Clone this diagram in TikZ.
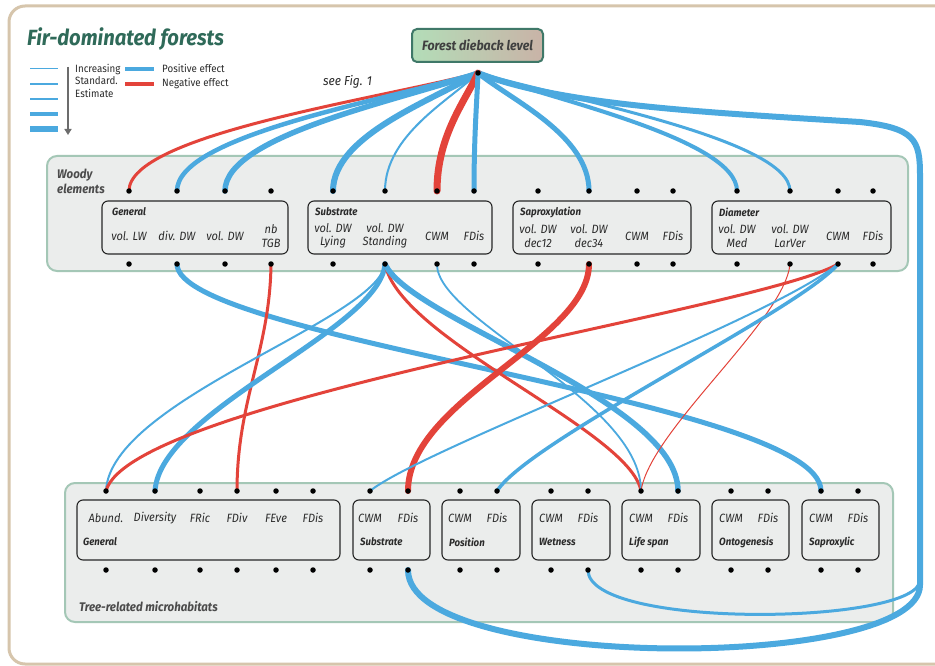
\documentclass[tikz,border=0pt]{standalone}
\usepackage{fontspec}
\setmainfont{Fira Sans}[FakeStretch=0.92]
\usetikzlibrary{arrows.meta}
\definecolor{cpos}{HTML}{4BA9DF}
\definecolor{cneg}{HTML}{E3433A}
\definecolor{boxfill}{HTML}{EBEDEC}
\definecolor{boxline}{HTML}{A4C7B6}
\definecolor{framec}{HTML}{D6C5AC}
\definecolor{titlegreen}{HTML}{2F6A59}
\definecolor{txt}{HTML}{2B2B2B}
\definecolor{fdbL}{HTML}{B3DDB8}
\definecolor{fdbR}{HTML}{C9B3A7}
\definecolor{fdbline}{HTML}{3F7868}
\begin{document}
\begin{tikzpicture}[x=1pt,y=-1pt,
  dot/.style={circle,fill=black,inner sep=0pt,minimum size=5.5pt},
  item/.style={font=\fontsize{12}{13.5}\selectfont\itshape,text=txt,align=center,inner sep=0pt},
  subtitle/.style={font=\fontsize{10.5}{12}\selectfont\bfseries\itshape,text=txt,anchor=west,inner sep=0pt},
  subbox/.style={draw=black!85,line width=1.1pt,rounded corners=6pt,inner sep=0pt},
  bigbox/.style={draw=boxline,fill=boxfill,line width=2pt,rounded corners=10pt,inner sep=0pt},
  bigtitle/.style={font=\fontsize{12.5}{15.5}\selectfont\bfseries\itshape,text=txt!85,anchor=west,inner sep=0pt,align=left},
  legtext/.style={font=\fontsize{10.6}{12}\selectfont,text=txt,anchor=west,inner sep=0pt},
  pe/.style={draw=cpos,line cap=round,line join=round},
  ne/.style={draw=cneg,line cap=round,line join=round},
]
\useasboundingbox (0,0) rectangle (935,666);
\clip (0,0) rectangle (935,666);
\fill[white] (0,0) rectangle (935,666);
\draw[framec,line width=3pt,rounded corners=16pt] (9,6) rectangle (965,664);

% title and legend
\node[anchor=west,inner sep=0pt,text=titlegreen,font=\fontsize{22}{25}\selectfont\bfseries\itshape] (title) at (27,39) {Fir-dominated forests};
\foreach \yy/\ww in {69/1,84/1.5,99/2.5,114/3.5,129/5.5}
  \draw[cpos,line width=\ww pt] (30,\yy) -- (58,\yy);
\draw[draw=gray!85!black,line width=1.5pt,-{Triangle[width=7pt,length=6pt]}] (68,67) -- (68,135);
\node[legtext] (l1) at (75,69) {Increasing};
\node[legtext] (l2) at (75,81) {Standard.};
\node[legtext] (l3) at (75,93) {Estimate};
\draw[cpos,line width=4pt] (125,69) -- (154,69);
\draw[cneg,line width=4pt] (125,84) -- (154,84);
\node[legtext] (lp) at (162,68) {Positive effect};
\node[legtext] (ln) at (162,83) {Negative effect};
\node[anchor=west,inner sep=0pt,text=txt,font=\fontsize{13}{15}\selectfont\itshape] (see) at (323,82) {see Fig. 1};

% top node
\node[draw=fdbline,line width=2pt,rounded corners=5pt,left color=fdbL,right color=fdbR,minimum width=131pt,minimum height=33pt,inner sep=0pt,font=\fontsize{13.5}{15}\selectfont\bfseries\itshape,text=txt!90] (fdb) at (477.5,45.5) {Forest dieback level};

% big boxes
\node[bigbox,minimum width=861pt,minimum height=115pt] (woody) at (477.5,213.5) {};
\node[bigbox,minimum width=828pt,minimum height=139pt] (micro) at (479,552.5) {};
\node[bigtitle] (woodyt) at (57,181.5) {Woody\\elements};
\node[bigtitle] (microt) at (79,607) {Tree-related microhabitats};

% woody sub boxes
\node[subbox,minimum width=186pt,minimum height=53pt] (wg) at (195,227.5) {};
\node[subbox,minimum width=184pt,minimum height=53pt] (ws) at (400,227.5) {};
\node[subbox,minimum width=178pt,minimum height=53pt] (wx) at (602,227.5) {};
\node[subbox,minimum width=179pt,minimum height=53pt] (wd) at (801.5,227.5) {};
\node[subtitle] at (112,212) {General};
\node[subtitle] at (315,212) {Substrate};
\node[subtitle] at (520,212) {Saproxylation};
\node[subtitle] at (719,212) {Diameter};
\node[item] at (129,236) {vol. LW};
\node[item] at (177,236) {div. DW};
\node[item] at (225,236) {vol. DW};
\node[item] at (271,236) {nb\\TGB};
\node[item] at (333,236) {vol. DW\\Lying};
\node[item] at (385,236) {vol. DW\\Standing};
\node[item] at (437,236) {CWM};
\node[item] at (474,236) {FDis};
\node[item] at (538,236) {vol. DW\\dec12};
\node[item] at (589,236) {vol. DW\\dec34};
\node[item] at (637,236) {CWM};
\node[item] at (673,236) {FDis};
\node[item] at (737,236) {vol. DW\\Med};
\node[item] at (790,236) {vol. DW\\LarVer};
\node[item] at (838,236) {CWM};
\node[item] at (873,236) {FDis};

% micro sub boxes
\node[subbox,minimum width=263pt,minimum height=60pt] (mg) at (208.5,530) {};
\node[subbox,minimum width=77pt,minimum height=60pt] (ms) at (391.5,530) {};
\node[subbox,minimum width=78pt,minimum height=60pt] (mp) at (481,530) {};
\node[subbox,minimum width=78pt,minimum height=60pt] (mw) at (571,530) {};
\node[subbox,minimum width=78pt,minimum height=60pt] (ml) at (661,530) {};
\node[subbox,minimum width=77pt,minimum height=60pt] (mo) at (750.5,530) {};
\node[subbox,minimum width=77pt,minimum height=60pt] (mx) at (840.5,530) {};
\node[subtitle] at (83,542) {General};
\node[subtitle] at (360,542) {Substrate};
\node[subtitle] at (449,542) {Position};
\node[subtitle] at (539,542) {Wetness};
\node[subtitle] at (629,542) {Life span};
\node[subtitle] at (719,542) {Ontogenesis};
\node[subtitle] at (809,542) {Saproxylic};
\foreach \xx/\tt in {106/Abund.,155/Diversity,200/FRic,237/FDiv,276/FEve,313/FDis,370/CWM,408/FDis,460/CWM,497/FDis,551/CWM,588/FDis,641/CWM,678/FDis,731/CWM,768/FDis,821/CWM,858/FDis}
  \node[item] at (\xx,518) {\tt};

% coordinates of the dots
\coordinate (src) at (478,73);
\foreach \xx [count=\i] in {129,177,225,271,333,385,437,474,538,589,637,673,737,790,838,873} {
  \coordinate (wt\i) at (\xx,191);
  \coordinate (wb\i) at (\xx,264);
}
\foreach \xx [count=\i] in {106,155,200,237,276,313,370,408,460,497,551,588,641,678,731,768,821,858} {
  \coordinate (mt\i) at (\xx,491);
  \coordinate (mb\i) at (\xx,570);
}
\coordinate (rtop) at (920,175);
\coordinate (rbot) at (920,580);
\coordinate (rbotb) at (920,585);

% edges from forest dieback level
\draw[pe,line width=3pt] (src) .. controls (560,105) and (700,112) .. (860,122) .. controls (915,128) and (920,140) .. (rtop) -- (rbot) .. controls (920,625) and (588,630) .. (mb12);
\draw[pe,line width=6pt] (src) .. controls (560,105) and (700,112) .. (860,122) .. controls (915,128) and (920,140) .. (rtop) -- (rbotb) .. controls (920,672) and (408,672) .. (mb8);
\draw[ne,line width=3pt] (src) .. controls (373,100) and (129,135) .. (wt1);
\draw[pe,line width=4.5pt] (src) .. controls (388,100) and (177,135) .. (wt2);
\draw[pe,line width=5.5pt] (src) .. controls (402,100) and (225,135) .. (wt3);
\draw[pe,line width=6pt] (src) .. controls (434,100) and (333,135) .. (wt5);
\draw[pe,line width=2pt] (src) .. controls (450,100) and (385,135) .. (wt6);
\draw[ne,line width=7pt] (src) .. controls (466,100) and (437,135) .. (wt7);
\draw[pe,line width=5pt] (src) .. controls (477,100) and (474,135) .. (wt8);
\draw[pe,line width=5pt] (src) .. controls (511,100) and (589,135) .. (wt10);
\draw[pe,line width=4pt] (src) .. controls (556,100) and (737,140) .. (wt13);
\draw[pe,line width=3pt] (src) .. controls (572,100) and (790,140) .. (wt14);

% edges woody -> microhabitats
\draw[pe,line width=5pt] (wb2) .. controls (177,340) and (821,400) .. (mt17);
\draw[ne,line width=3pt] (wb4) .. controls (270,350) and (237,400) .. (mt4);
\draw[pe,line width=2pt] (wb6) .. controls (378,320) and (110,400) .. (mt1);
\draw[pe,line width=5pt] (wb6) .. controls (380,330) and (160,410) .. (mt2);
\draw[ne,line width=3pt] (wb6) .. controls (400,340) and (630,430) .. (mt13);
\draw[pe,line width=5.5pt] (wb6) .. controls (410,320) and (678,400) .. (mt14);
\draw[pe,line width=1.8pt] (wb7) .. controls (436,320) and (641,400) .. (mt13);
\draw[ne,line width=6pt] (wb10) .. controls (589,340) and (408,400) .. (mt8);
\draw[ne,line width=1pt] (wb14) .. controls (785,320) and (650,430) .. (mt13);
\draw[ne,line width=3pt] (wb15) .. controls (760,310) and (130,400) .. (mt1);
\draw[pe,line width=2pt] (wb15) .. controls (770,320) and (420,450) .. (mt7);
\draw[pe,line width=3.5pt] (wb15) .. controls (800,310) and (530,440) .. (mt10);

% dots
\node[dot] at (src) {};
\foreach \i in {1,...,16} {
  \node[dot] at (wt\i) {};
  \node[dot] at (wb\i) {};
}
\foreach \i in {1,...,18} {
  \node[dot] at (mt\i) {};
  \node[dot] at (mb\i) {};
}
\end{tikzpicture}
\end{document}
